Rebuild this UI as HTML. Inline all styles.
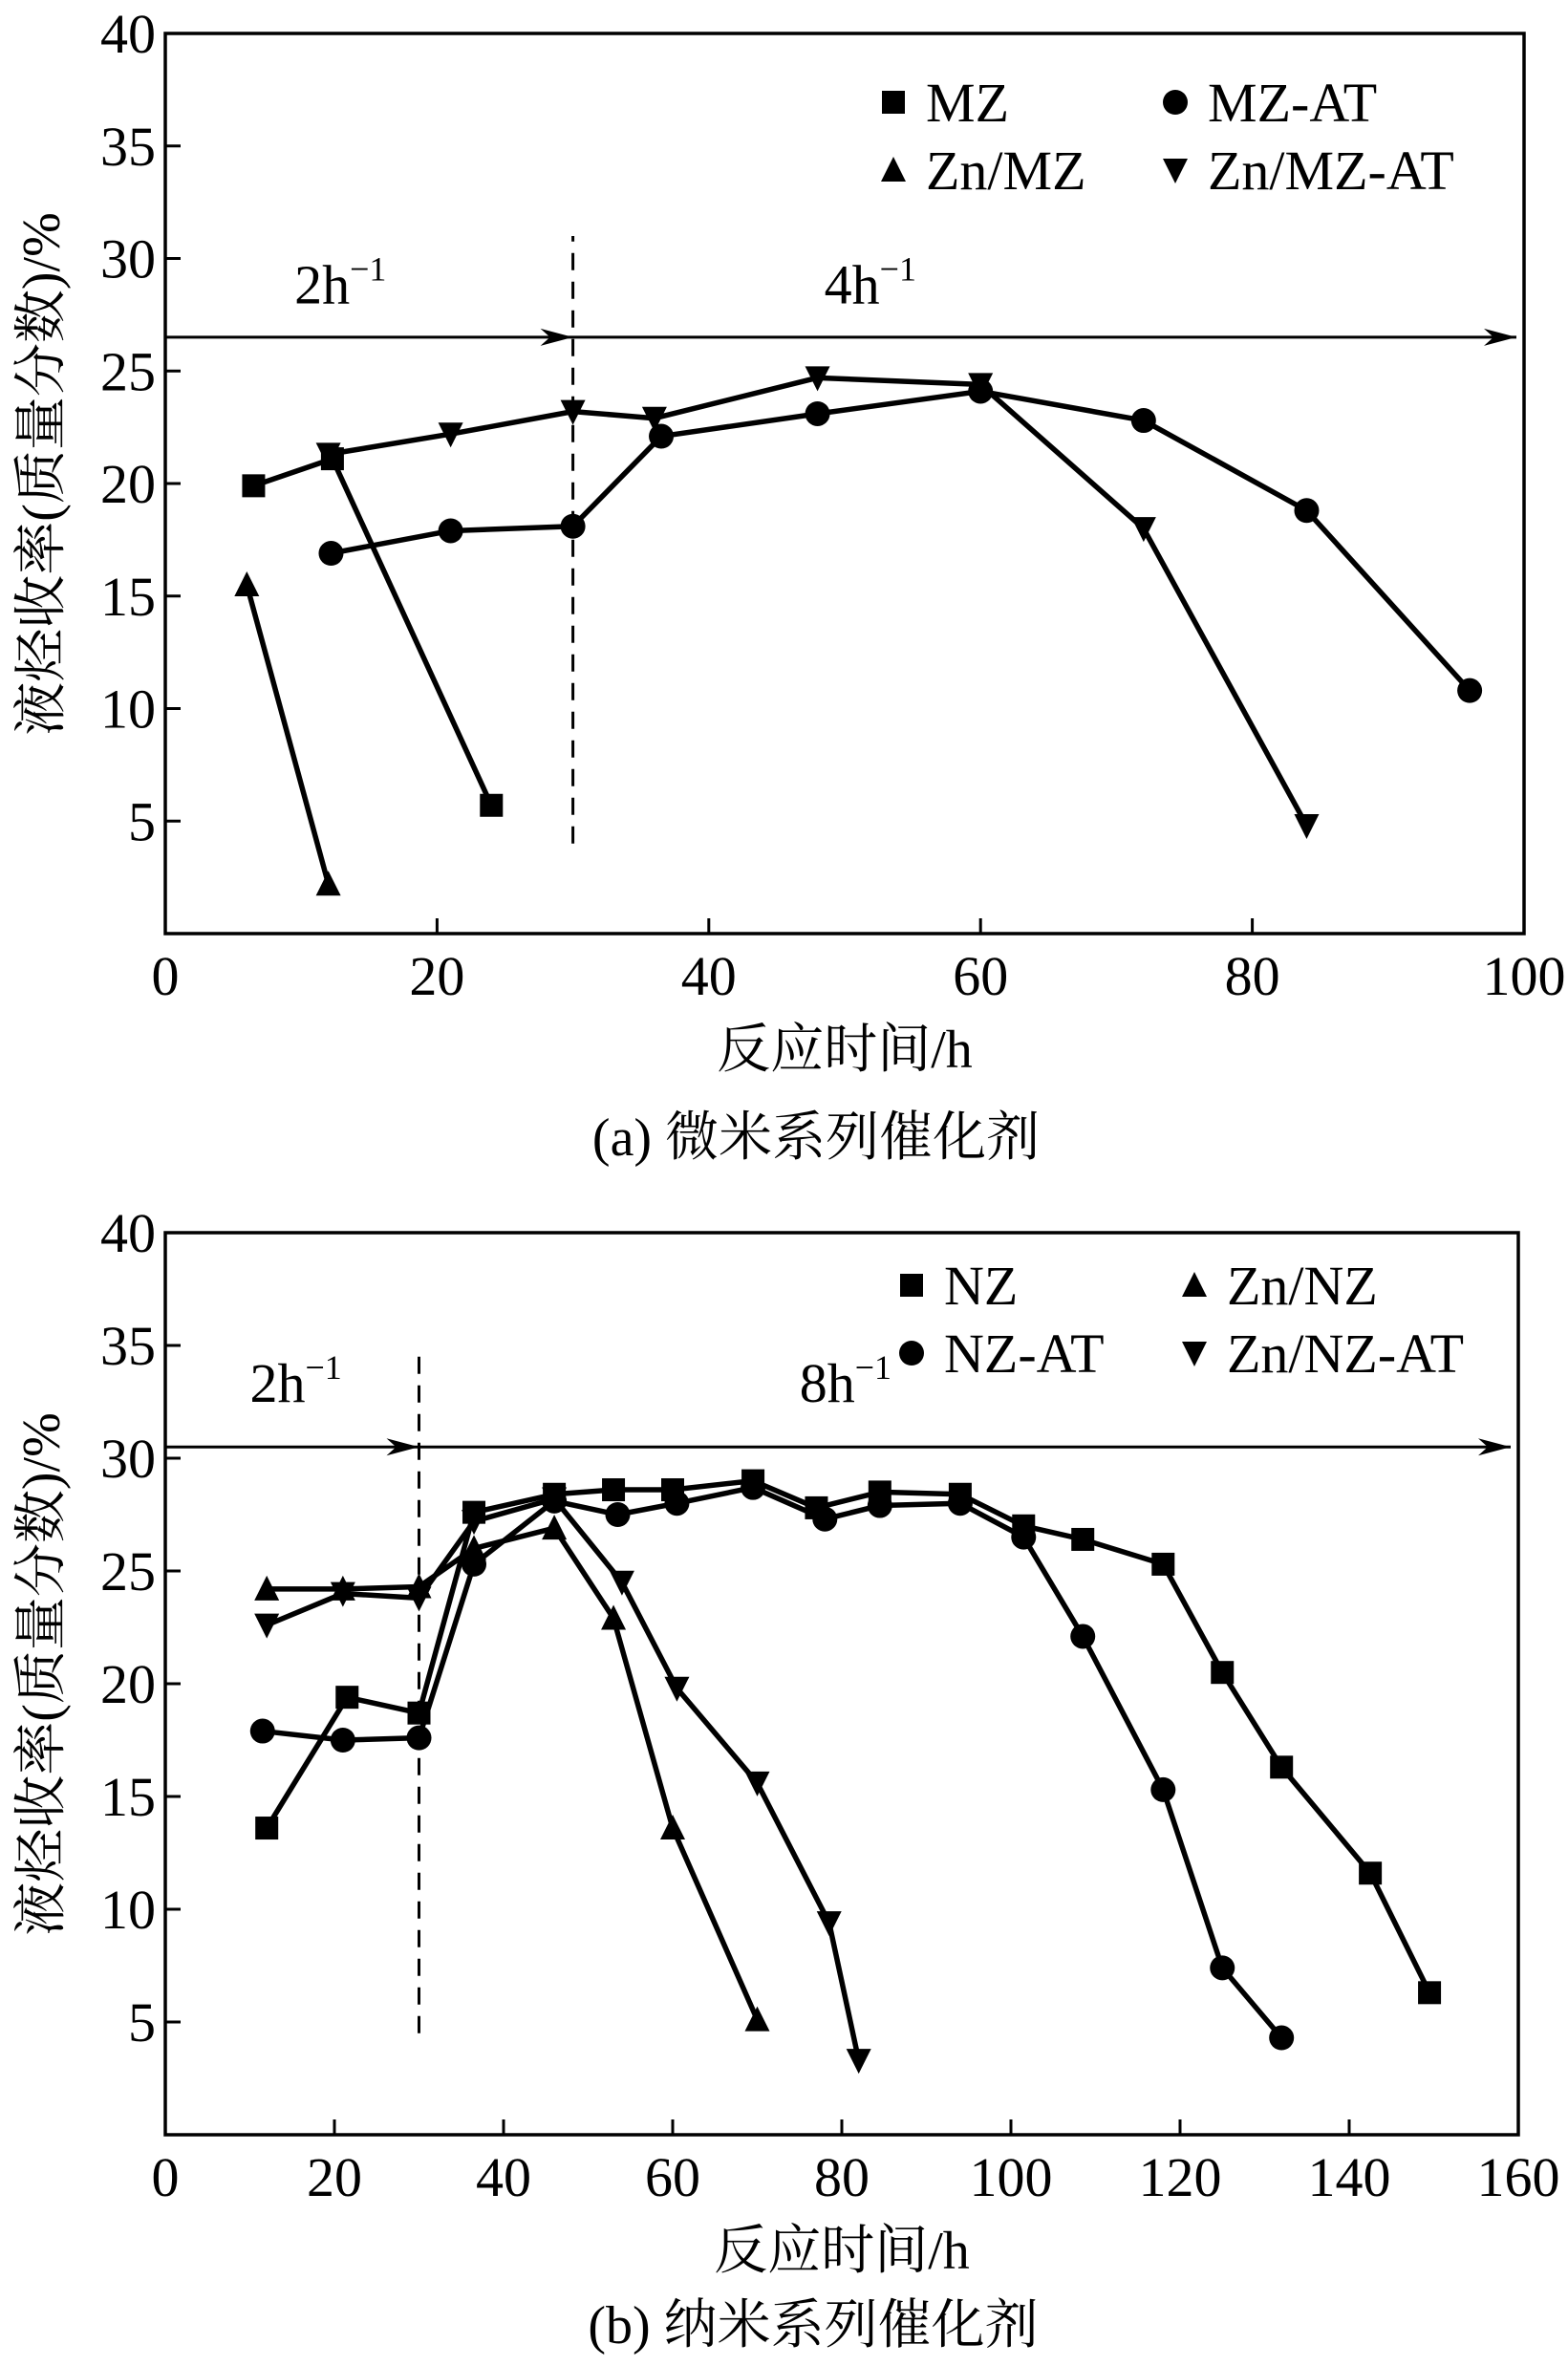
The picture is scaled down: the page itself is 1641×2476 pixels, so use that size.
<!DOCTYPE html>
<html><head><meta charset="utf-8">
<style>
html,body{margin:0;padding:0;background:#fff;}
svg{display:block;}
text{font-family:"Liberation Serif","Noto Serif CJK SC","Noto Sans CJK SC",serif;fill:#000;}
</style></head>
<body>
<svg id="chart" width="1641" height="2476" viewBox="0 0 1641 2476" xmlns="http://www.w3.org/2000/svg"></svg>
<script>
// ---- Panel (a) data ----
const aXTicks = [0, 20, 40, 60, 80, 100];
const aYTicks = [5, 10, 15, 20, 25, 30, 35, 40];
const aMZx = [6.5, 12.3, 24];
const aMZy = [19.9, 21.1, 5.7];
const aMZATx = [12.2, 21, 30, 36.5, 48, 60, 72, 84, 96];
const aMZATy = [16.9, 17.9, 18.1, 22.1, 23.1, 24.1, 22.8, 18.8, 10.8];
const aZnMZx = [6, 12];
const aZnMZy = [15.5, 2.2];
const aZnMZATx = [12, 21, 30, 36, 48, 60, 72, 84];
const aZnMZATy = [21.3, 22.2, 23.2, 22.9, 24.7, 24.4, 18, 4.8];
// ---- Panel (b) data ----
const bXTicks = [0, 20, 40, 60, 80, 100, 120, 140, 160];
const bYTicks = [5, 10, 15, 20, 25, 30, 35, 40];
const bNZx = [12, 21.5, 30, 36.5, 46, 53, 60, 69.5, 77, 84.5, 94, 101.5, 108.5, 118, 125, 132, 142.5, 149.5];
const bNZy = [13.6, 19.4, 18.7, 27.6, 28.4, 28.6, 28.6, 29, 27.8, 28.5, 28.4, 27, 26.4, 25.3, 20.5, 16.3, 11.6, 6.3];
const bNZATx = [11.5, 21, 30, 36.5, 46, 53.5, 60.5, 69.5, 78, 84.5, 94, 101.5, 108.5, 118, 125, 132];
const bNZATy = [17.9, 17.5, 17.6, 25.3, 28.1, 27.5, 28, 28.7, 27.3, 27.9, 28, 26.5, 22.1, 15.3, 7.4, 4.3];
const bZnNZx = [12, 21, 30, 36.5, 46, 53, 60, 70];
const bZnNZy = [24.2, 24.2, 24.3, 26, 26.9, 22.9, 13.6, 5.1];
const bZnNZATx = [12, 21, 30, 36.5, 46, 54, 60.5, 70, 78.5, 82];
const bZnNZATy = [22.6, 24, 23.8, 27.2, 28.2, 24.5, 19.8, 15.6, 9.4, 3.3];

const NS = "http://www.w3.org/2000/svg";
const svg = document.getElementById('chart');
function mk(tag, attrs, parent) {
  const e = document.createElementNS(NS, tag);
  for (const k in attrs) e.setAttribute(k, attrs[k]);
  (parent || svg).appendChild(e);
  return e;
}
function marker(g, type, cx, cy) {
  const s = 12;
  let m;
  if (type === 'square') m = mk('rect', {x: cx - s, y: cy - s, width: 2 * s, height: 2 * s, fill: '#000'}, g);
  else if (type === 'circle') m = mk('circle', {cx: cx, cy: cy, r: s + 1, fill: '#000'}, g);
  else if (type === 'up') m = mk('polygon', {points: `${cx},${cy - s - 2} ${cx - s - 1},${cy + s} ${cx + s + 1},${cy + s}`, fill: '#000'}, g);
  else m = mk('polygon', {points: `${cx},${cy + s + 2} ${cx - s - 1},${cy - s} ${cx + s + 1},${cy - s}`, fill: '#000'}, g);
  return m;
}
function panel(cfg) {
  const L = cfg.left, R = cfg.right, T = cfg.top, B = cfg.bottom;
  const sx = v => L + (v - 0) / cfg.xmax * (R - L);
  const sy = v => B - v / 40 * (B - T);
  const g = mk('g', {});
  
  
  const frame = mk('rect', {x: L, y: T, width: R - L, height: B - T, fill: 'none', stroke: '#000', 'stroke-width': 3.5}, g);
  
  
  cfg.xticks.forEach(t => {
    const x = sx(t);
    if (t > 0 && t < cfg.xmax) {
      const tk = mk('line', {x1: x, x2: x, y1: B, y2: B - 16, stroke: '#000', 'stroke-width': 3}, g);
      
      
    }
    const lb = mk('text', {x: x, y: B + 64, 'font-size': 58, 'text-anchor': 'middle'}, g);
    lb.textContent = t;
    
    
  });
  cfg.yticks.forEach(t => {
    const y = sy(t);
    if (t < 40) {
      const tk = mk('line', {x1: L, x2: L + 16, y1: y, y2: y, stroke: '#000', 'stroke-width': 3}, g);
      
      
    }
    const lb = mk('text', {x: L - 10, y: y + 20, 'font-size': 58, 'text-anchor': 'end'}, g);
    lb.textContent = t;
    
    
  });
  const dl = mk('line', {x1: sx(30), x2: sx(30), y1: sy(cfg.dash[0]), y2: sy(cfg.dash[1]), stroke: '#000', 'stroke-width': 3, 'stroke-dasharray': '18,12'}, g);
  
  
  const ay = sy(cfg.arrowY);
  const al = mk('line', {x1: L, x2: R - 8, y1: ay, y2: ay, stroke: '#000', 'stroke-width': 3}, g);
  
  
  [sx(30), R - 8].forEach(px => {
    const ah = mk('path', {d: `M${px - 34},${ay - 9} L${px},${ay} L${px - 34},${ay + 9} L${px - 24},${ay} Z`, fill: '#000'}, g);
    
    
  });
  cfg.rateLabels.forEach(r => {
    const t = mk('text', {x: sx(r.x), y: sy(r.y), 'font-size': 58}, g);
    
    
    t.appendChild(document.createTextNode(r.base));
    const sp = mk('tspan', {dy: -24, 'font-size': 36}, t);
    sp.textContent = '−1';
  });
  cfg.series.forEach(s => {
    const sg = mk('g', {}, g);
    
    
    const pts = s.xs.map((v, i) => sx(v) + ',' + sy(s.ys[i])).join(' ');
    const pl = mk('polyline', {points: pts, fill: 'none', stroke: '#000', 'stroke-width': 5.5, 'stroke-linejoin': 'round'}, sg);
    
    
    s.xs.forEach((v, i) => {
      const m = marker(sg, s.m, sx(v), sy(s.ys[i]));
      
      
    });
    const lg = mk('g', {}, g);
    
    
    marker(lg, s.m, s.lx, s.ly);
    const lt = mk('text', {x: s.lx + 34, y: s.ly + 20, 'font-size': 58}, lg);
    lt.textContent = s.label;
  });
  const xt = mk('text', {x: (L + R) / 2, y: B + 140, 'font-size': 56, 'text-anchor': 'middle'}, g);
  xt.textContent = '反应时间/h';
  
  
  const cy = (T + B) / 2 - 10;
  const yt = mk('text', {x: 0, y: 0, 'font-size': 56, 'text-anchor': 'middle', transform: `translate(62,${cy}) rotate(-90)`}, g);
  yt.textContent = '液烃收率(质量分数)/%';
  
  
  const cap = mk('text', {x: (L + R) / 2 - 30, y: B + cfg.capOff, 'font-size': 56, 'text-anchor': 'middle'}, g);
  cap.textContent = cfg.caption;
  
  
}
panel({
  name: 'panel-a', left: 173, right: 1595, top: 35, bottom: 977, xmax: 100,
  xticks: aXTicks, yticks: aYTicks, dash: [4, 31], arrowY: 26.5, capOff: 232,
  rateLabels: [{x: 9.5, y: 28, base: '2h'}, {x: 48.5, y: 28, base: '4h'}],
  caption: '(a) 微米系列催化剂',
  series: [
    {id: 'mz', xs: aMZx, ys: aMZy, m: 'square', label: 'MZ', lx: 935, ly: 107},
    {id: 'mz-at', xs: aMZATx, ys: aMZATy, m: 'circle', label: 'MZ-AT', lx: 1230, ly: 107},
    {id: 'zn-mz', xs: aZnMZx, ys: aZnMZy, m: 'up', label: 'Zn/MZ', lx: 935, ly: 178},
    {id: 'zn-mz-at', xs: aZnMZATx, ys: aZnMZATy, m: 'down', label: 'Zn/MZ-AT', lx: 1230, ly: 178}
  ]
});
panel({
  name: 'panel-b', left: 173, right: 1589, top: 1290, bottom: 2234, xmax: 160,
  xticks: bXTicks, yticks: bYTicks, dash: [4.5, 35], arrowY: 30.5, capOff: 218,
  rateLabels: [{x: 10, y: 32.5, base: '2h'}, {x: 75, y: 32.5, base: '8h'}],
  caption: '(b) 纳米系列催化剂',
  series: [
    {id: 'nz', xs: bNZx, ys: bNZy, m: 'square', label: 'NZ', lx: 954, ly: 1345},
    {id: 'zn-nz', xs: bZnNZx, ys: bZnNZy, m: 'up', label: 'Zn/NZ', lx: 1250, ly: 1345},
    {id: 'nz-at', xs: bNZATx, ys: bNZATy, m: 'circle', label: 'NZ-AT', lx: 954, ly: 1416},
    {id: 'zn-nz-at', xs: bZnNZATx, ys: bZnNZATy, m: 'down', label: 'Zn/NZ-AT', lx: 1250, ly: 1416}
  ]
});
</script>
</body></html>
